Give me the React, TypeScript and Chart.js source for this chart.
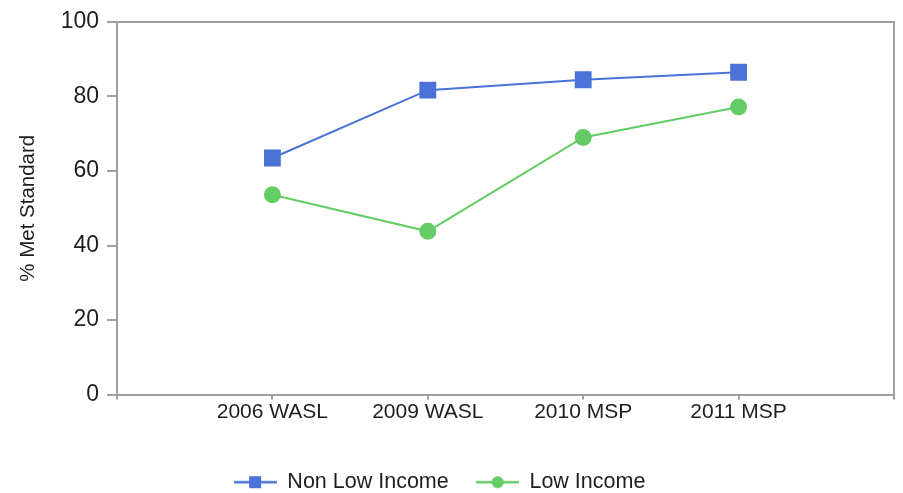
import React, { useEffect, useRef } from "react";
import { Chart, registerables } from "chart.js";

Chart.register(...registerables);

const categories = ["", "2006 WASL", "2009 WASL", "2010 MSP", "2011 MSP", ""];
const nonLowIncome = [null, 63.5, 81.7, 84.5, 86.5, null];
const lowIncome = [null, 53.6, 43.8, 69.0, 77.2, null];
const yTicks = [0, 20, 40, 60, 80, 100];

const BLUE = "#4a73d8";
const GREEN = "#64cc64";
const AXIS = "#a0a0a0";
const TEXT = "#1e1e1e";
const FONT = "'Liberation Sans', Arial, sans-serif";

function legendIcon(color: string, shape: "rect" | "circle"): HTMLCanvasElement {
  const c = document.createElement("canvas");
  c.width = 43;
  c.height = 16;
  const g = c.getContext("2d")!;
  g.strokeStyle = color;
  g.lineWidth = 2.5;
  g.beginPath();
  g.moveTo(0, 8);
  g.lineTo(43, 8);
  g.stroke();
  g.fillStyle = color;
  if (shape === "rect") {
    g.fillRect(15, 2, 12, 12);
  } else {
    g.beginPath();
    g.arc(21.5, 8, 6, 0, Math.PI * 2);
    g.fill();
  }
  return c;
}

const boxPlugin = {
  id: "plotBox",
  afterLayout(chart: any) {
    if (chart.legend) {
      chart.legend.left -= 7;
      chart.legend.right -= 7;
    }
  },
  afterDraw(chart: any) {
    const { ctx, chartArea } = chart;
    ctx.save();
    ctx.strokeStyle = AXIS;
    ctx.lineWidth = 2;
    ctx.beginPath();
    ctx.moveTo(chartArea.left, chartArea.top);
    ctx.lineTo(chartArea.right, chartArea.top);
    ctx.lineTo(chartArea.right, chartArea.bottom + 4);
    ctx.stroke();
    ctx.restore();
  },
};

export default function App() {
  const ref = useRef<HTMLCanvasElement>(null);
  useEffect(() => {
    if (!ref.current) return;
    const icons = [legendIcon(BLUE, "rect"), legendIcon(GREEN, "circle")];
    const chart = new Chart(ref.current, {
      type: "line",
      data: {
        labels: categories,
        datasets: [
          {
            label: "Non Low Income",
            data: nonLowIncome,
            borderColor: BLUE,
            backgroundColor: BLUE,
            borderWidth: 2,
            pointStyle: "rect",
            pointRadius: 10.5,
            pointHoverRadius: 10.5,
            tension: 0,
          },
          {
            label: "Low Income",
            data: lowIncome,
            borderColor: GREEN,
            backgroundColor: GREEN,
            borderWidth: 2,
            pointStyle: "circle",
            pointRadius: 7.5,
            pointHoverRadius: 7.5,
            tension: 0,
          },
        ],
      },
      options: {
        animation: false,
        responsive: true,
        maintainAspectRatio: false,
        layout: { autoPadding: false, padding: { top: 22, right: 9, left: 0, bottom: -10 } },
        plugins: {
          tooltip: { enabled: false },
          legend: {
            position: "bottom",
            labels: {
              usePointStyle: true,
              pointStyleWidth: 42,
              padding: 28,
              color: TEXT,
              font: { family: FONT, size: 21.5 },
              generateLabels: (chart: any) =>
                chart.data.datasets.map((ds: any, i: number) => ({
                  text: ds.label,
                  pointStyle: icons[i],
                  fillStyle: ds.backgroundColor,
                  strokeStyle: ds.borderColor,
                  lineWidth: 0,
                  hidden: false,
                  datasetIndex: i,
                  fontColor: TEXT,
                })),
            },
          },
        },
        scales: {
          x: {
            offset: false,
            grid: {
              drawOnChartArea: false,
              drawTicks: true,
              tickLength: 5,
              color: AXIS,
              lineWidth: 2,
            },
            border: { display: true, color: AXIS, width: 2 },
            ticks: {
              color: TEXT,
              font: { family: FONT, size: 21 },
              padding: 0,
              maxRotation: 0,
              autoSkip: false,
            },
            afterFit: (scale: any) => {
              scale.height = 49;
              scale.paddingLeft = 0;
              scale.paddingRight = 0;
            },
          },
          y: {
            min: 0,
            max: 100,
            afterBuildTicks: (scale: any) => {
              scale.ticks = yTicks.map((v) => ({ value: v }));
            },
            grid: {
              drawOnChartArea: false,
              drawTicks: true,
              tickLength: 10,
              color: AXIS,
              lineWidth: 2,
            },
            border: { display: true, color: AXIS, width: 2 },
            ticks: {
              color: TEXT,
              font: { family: FONT, size: 23 },
              padding: 8,
            },
            title: {
              display: true,
              text: "% Met Standard",
              color: TEXT,
              font: { family: FONT, size: 20.5 },
              padding: { top: 16, bottom: 0 },
            },
            afterFit: (scale: any) => {
              scale.width = 117;
            },
          },
        },
      },
      plugins: [boxPlugin],
    });
    return () => chart.destroy();
  }, []);
  return (
    <div style={{ position: "absolute", left: 0, top: 0, width: 903, height: 493 }}>
      <canvas ref={ref} />
    </div>
  );
}
